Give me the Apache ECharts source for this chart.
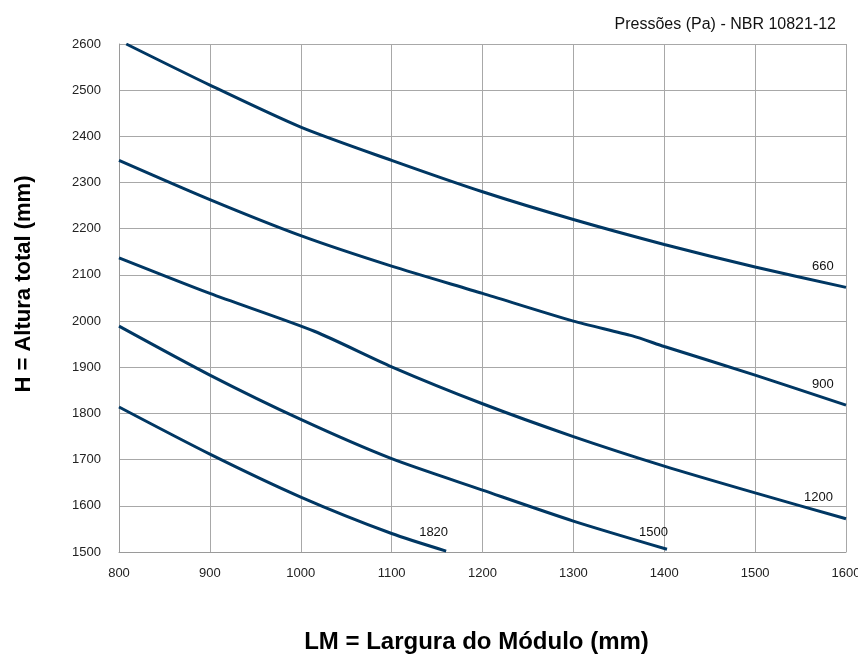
<!DOCTYPE html>
<html>
<head>
<meta charset="utf-8">
<script src="https://cdn.jsdelivr.net/npm/echarts@6/dist/echarts.min.js"></script>
<style>
  html, body { margin: 0; padding: 0; background: #fff; }
  #chart { width: 858px; height: 657px; }
</style>
</head>
<body>
<div id="chart"></div>
<script>
// pressure curves: [LM, H]
var p660 = [[808, 2600], [900, 2511], [1000, 2420], [1100, 2348], [1200, 2280], [1300, 2220], [1400, 2166], [1500, 2117], [1600, 2073]]
var p900 = [[800, 2348], [900, 2263], [1000, 2185], [1100, 2119], [1200, 2060], [1300, 2000], [1365, 1968], [1400, 1945], [1500, 1883], [1600, 1818]]
var p1200 = [[800, 2137], [900, 2060], [1015, 1978], [1100, 1901], [1200, 1821], [1300, 1750], [1400, 1686], [1500, 1628], [1600, 1572]]
var p1500 = [[800, 1989], [900, 1883], [1000, 1787], [1100, 1702], [1200, 1634], [1300, 1567], [1403, 1506]]
var p1820 = [[800, 1814], [900, 1712], [1000, 1619], [1100, 1540], [1160, 1502]]
var seriesNames = ['660', '900', '1200', '1500', '1820']
var seriesData = [p660, p900, p1200, p1500, p1820]
// where each pressure label sits relative to the curve end
var labelOffsets = [[-42, -21], [-42, -21], [-50, -21], [-36, -17], [-35, -19]]

var chart = echarts.init(document.getElementById('chart'))

var series = seriesData.map(function(d, i) {
  return {
    name: seriesNames[i],
    type: 'line',
    data: d,
    smooth: 0.25,
    symbol: 'none',
    lineStyle: { color: '#003763', width: 3 },
    endLabel: {
      show: true,
      formatter: seriesNames[i],
      offset: labelOffsets[i],
      color: '#111',
      fontSize: 13,
      fontFamily: 'Liberation Sans'
    }
  }
})

chart.setOption({
  animation: false,
  title: {
    text: 'Pressões (Pa) - NBR 10821-12',
    right: 17,
    top: 12,
    textStyle: { fontSize: 16, fontWeight: 'normal', color: '#111', fontFamily: 'Liberation Sans' }
  },
  grid: { left: 119, right: 12, top: 44, bottom: 105, outerBoundsMode: 'none' },
  xAxis: {
    type: 'value',
    min: 800,
    max: 1600,
    interval: 100,
    name: 'LM = Largura do Módulo (mm)',
    nameLocation: 'middle',
    nameGap: 78,
    nameTextStyle: { fontSize: 24, fontWeight: 'bold', color: '#000', fontFamily: 'Liberation Sans', padding: [0, 12, 0, 0] },
    axisLine: { lineStyle: { color: '#9a9a9a' } },
    axisTick: { show: false },
    axisLabel: { color: '#222', fontSize: 13, fontFamily: 'Liberation Sans', margin: 15, formatter: function(v) { return String(v) } },
    splitLine: { lineStyle: { color: '#a8a8a8', width: 1 } }
  },
  yAxis: {
    type: 'value',
    min: 1500,
    max: 2600,
    interval: 100,
    name: 'H = Altura total (mm)',
    nameLocation: 'middle',
    nameGap: 84,
    nameTextStyle: { fontSize: 22, fontWeight: 'bold', color: '#000', fontFamily: 'Liberation Sans', padding: [0, 0, 0, 28] },
    axisLine: { show: true, lineStyle: { color: '#9a9a9a' } },
    axisTick: { show: false },
    axisLabel: { color: '#222', fontSize: 13, fontFamily: 'Liberation Sans', margin: 18, formatter: function(v) { return String(v) } },
    splitLine: { lineStyle: { color: '#a8a8a8', width: 1 } }
  },
  series: series
})
</script>
</body>
</html>
